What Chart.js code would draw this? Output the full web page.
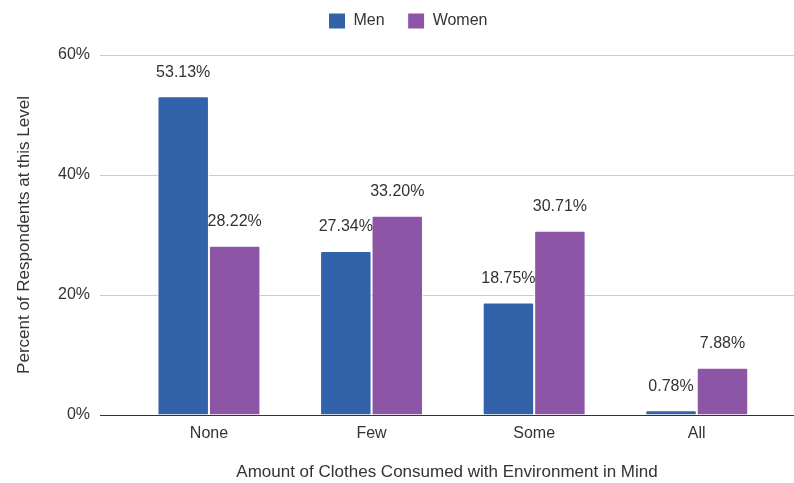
<!DOCTYPE html>
<html>

<head>
  <title>Clothes Consumed with Environment in Mind</title>
  <script src="https://cdn.jsdelivr.net/npm/chart.js@4.4.1/dist/chart.umd.min.js"></script>
  <style>
    body { margin: 0; background: #fff; }
    canvas { display: block; }
  </style>
</head>

<body>
  <canvas id="clothesChart" width="794" height="483"></canvas>

  <script>
    // Share of respondents (%) at each level
    const categories = ['None', 'Few', 'Some', 'All'];
    const menValues = [53.13, 27.34, 18.75, 0.78];
    const womenValues = [28.22, 33.20, 30.71, 7.88];
    const yTicks = [0, 20, 40, 60];

    const fontFamily = "'Liberation Sans', Arial, sans-serif";
    const textColor = '#333';
    Chart.defaults.font.family = fontFamily;
    Chart.defaults.font.size = 16;
    Chart.defaults.color = textColor;

    const toPoints = values => values.map((v, i) => ({ x: i, y: v }));

    // Legend sits a bit higher and to the right, with room below it
    const legendPlacement = {
      id: 'legendPlacement',
      beforeInit(chart) {
        const fit = chart.legend.fit;
        chart.legend.fit = function () {
          fit.call(this);
          this.height += 6;
        };
      },
      afterLayout(chart) {
        const lg = chart.legend;
        lg.top -= 10;
        lg.bottom -= 10;
        lg.left += 11;
        lg.right += 11;
      }
    };

    // Percentage written above every bar
    const valueLabels = {
      id: 'valueLabels',
      afterDatasetsDraw(chart) {
        const ctx = chart.ctx;
        ctx.save();
        ctx.font = '16px ' + fontFamily;
        ctx.fillStyle = textColor;
        ctx.textAlign = 'center';
        ctx.textBaseline = 'middle';
        chart.data.datasets.forEach((ds, i) => {
          chart.getDatasetMeta(i).data.forEach((bar, j) => {
            ctx.fillText(ds.data[j].y.toFixed(2) + '%', bar.x, bar.y - 24);
          });
        });
        ctx.restore();
      }
    };

    const ctx = document.getElementById('clothesChart').getContext('2d');
    new Chart(ctx, {
      type: 'bar',
      data: {
        datasets: [{
          label: 'Men',
          data: toPoints(menValues),
          backgroundColor: '#3262a9',
          borderColor: '#fff',
          borderWidth: 1,
          borderRadius: { topLeft: 2, topRight: 2 },
          categoryPercentage: 0.633,
          barPercentage: 1,
        }, {
          label: 'Women',
          data: toPoints(womenValues),
          backgroundColor: '#8c55a6',
          borderColor: '#fff',
          borderWidth: 1,
          borderRadius: { topLeft: 2, topRight: 2 },
          categoryPercentage: 0.633,
          barPercentage: 1,
        }],
      },
      options: {
        responsive: false,
        animation: false,
        layout: { padding: 0 },
        plugins: {
          legend: {
            position: 'top',
            labels: {
              boxWidth: 17,
              boxHeight: 16,
              padding: 23,
              color: textColor,
              font: { size: 16 },
            },
          },
          tooltip: { enabled: false },
        },
        scales: {
          x: {
            type: 'linear',
            offset: false,
            min: -0.67,
            max: 3.598,
            afterBuildTicks: scale => {
              scale.ticks = categories.map((_, i) => ({ value: i }));
            },
            afterFit: scale => { scale.height = 68; },
            grid: { display: false, drawTicks: false },
            border: { display: false },
            ticks: {
              padding: 9,
              color: textColor,
              callback: v => categories[v],
            },
            title: {
              display: true,
              text: 'Amount of Clothes Consumed with Environment in Mind',
              color: textColor,
              font: { size: 17 },
              padding: { top: 4, bottom: 0 },
            },
          },
          y: {
            min: 0,
            max: 60,
            afterBuildTicks: scale => {
              scale.ticks = yTicks.map(v => ({ value: v }));
            },
            afterFit: scale => { scale.width = 100; },
            grid: {
              drawTicks: false,
              color: c => (c.tick.value === 0 ? '#333' : '#ccc'),
            },
            border: { display: false },
            ticks: {
              padding: 10,
              color: textColor,
              callback: v => v + '%',
            },
            title: {
              display: true,
              text: 'Percent of Respondents at this Level',
              color: textColor,
              font: { size: 17 },
              padding: { top: 14, bottom: 0 },
            },
          },
        },
      },
      plugins: [legendPlacement, valueLabels],
    });
  </script>
</body>

</html>
